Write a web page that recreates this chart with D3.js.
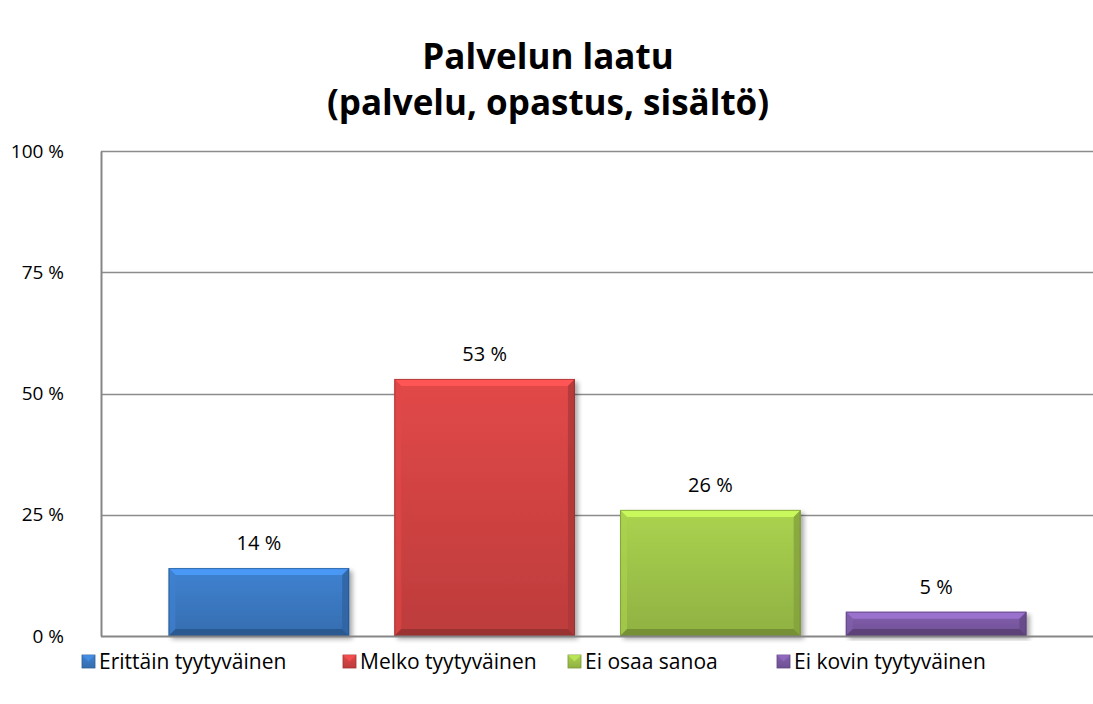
<!DOCTYPE html>
<html>
<head>
<meta charset="utf-8">
<script src="https://cdn.jsdelivr.net/npm/d3@7"></script>
<style>
  body { margin: 0; background: #fff; }
  svg { display: block; font-family: "Open Sans", Lato, sans-serif; }
</style>
</head>
<body>
<div id="chart"></div>
<script>
var width = 1093,
    height = 704;

var categories = ["Erittäin tyytyväinen", "Melko tyytyväinen", "Ei osaa sanoa", "Ei kovin tyytyväinen"];
var values = [14, 53, 26, 5];
var colors = ["#3c7bc6", "#d64444", "#a2c84b", "#7d5ba6"];
var ticks = [0, 25, 50, 75, 100];
var titleLines = ["Palvelun laatu", "(palvelu, opastus, sisältö)"];

var svg = d3.select("#chart").append("svg")
    .attr("width", width)
    .attr("height", height);

var defs = svg.append("defs");

var shadow = defs.append("filter").attr("id", "shadow")
    .attr("x", "-10%").attr("y", "-10%").attr("width", "130%").attr("height", "130%");
shadow.append("feGaussianBlur").attr("in", "SourceAlpha").attr("stdDeviation", 2.5);
shadow.append("feOffset").attr("dx", 3).attr("dy", 3).attr("result", "blur");
shadow.append("feComponentTransfer").append("feFuncA").attr("type", "linear").attr("slope", 0.35);
var merge = shadow.append("feMerge");
merge.append("feMergeNode");
merge.append("feMergeNode").attr("in", "SourceGraphic");

colors.forEach(function (c, i) {
    var g = defs.append("linearGradient").attr("id", "grad" + i)
        .attr("x1", 0).attr("y1", 0).attr("x2", 0).attr("y2", 1);
    g.append("stop").attr("offset", "0%").attr("stop-color", d3.color(c).brighter(0.15));
    g.append("stop").attr("offset", "100%").attr("stop-color", d3.color(c).darker(0.35));
});

var plotLeft = 101, plotRight = 1093, plotTop = 151, plotBottom = 636;

var x = d3.scaleBand()
    .domain(categories)
    .range([146, 1049])
    .paddingInner(0.2)
    .paddingOuter(0.1);

var y = d3.scaleLinear()
    .domain([0, 100])
    .range([plotBottom, plotTop]);

// title, one text per line
svg.append("g")
    .selectAll("text")
    .data(titleLines)
    .join("text")
    .attr("x", 548)
    .attr("y", (d, i) => 69 + i * 46)
    .attr("text-anchor", "middle")
    .attr("font-weight", "bold")
    .attr("font-size", 35)
    .attr("fill", "#000")
    .text(d => d);

// gridlines
svg.append("g")
    .selectAll("line")
    .data(ticks.slice(1))
    .join("line")
    .attr("x1", plotLeft).attr("x2", plotRight)
    .attr("y1", d => Math.round(y(d)) + 0.5)
    .attr("y2", d => Math.round(y(d)) + 0.5)
    .attr("stroke", "#8c8c8c")
    .attr("stroke-width", 1.5);

// y axis
var yAxis = svg.append("g")
    .attr("transform", `translate(${plotLeft},0)`)
    .call(d3.axisLeft(y).tickValues(ticks).tickSize(0).tickPadding(37).tickFormat(d => d + " %"));
yAxis.select(".domain").attr("stroke", "#868686").attr("stroke-width", 2);
yAxis.selectAll("text").attr("font-size", 19).attr("fill", "#000")
    .attr("font-family", "\"Open Sans\", Lato, sans-serif");

// bars
var bev = 7;
var bar = svg.append("g")
    .selectAll("g")
    .data(values)
    .join("g")
    .attr("filter", "url(#shadow)");

bar.append("rect")
    .attr("x", (d, i) => x(categories[i]))
    .attr("y", d => y(d))
    .attr("width", x.bandwidth())
    .attr("height", d => y(0) - y(d))
    .attr("fill", (d, i) => "url(#grad" + i + ")");

function facet(d, i, side) {
    var x0 = x(categories[i]), x1 = x0 + x.bandwidth(), y0 = y(d), y1 = y(0);
    var b = Math.min(bev, (y1 - y0) / 2);
    var pts;
    if (side === "top") pts = [[x0, y0], [x1, y0], [x1 - b, y0 + b], [x0 + b, y0 + b]];
    if (side === "bottom") pts = [[x0, y1], [x1, y1], [x1 - b, y1 - b], [x0 + b, y1 - b]];
    if (side === "left") pts = [[x0, y0], [x0 + b, y0 + b], [x0 + b, y1 - b], [x0, y1]];
    if (side === "right") pts = [[x1, y0], [x1 - b, y0 + b], [x1 - b, y1 - b], [x1, y1]];
    return pts.map(p => p.join(",")).join(" ");
}

bar.append("polygon").attr("points", (d, i) => facet(d, i, "top"))
    .attr("fill", (d, i) => d3.color(colors[i]).brighter(0.6));
bar.append("polygon").attr("points", (d, i) => facet(d, i, "left"))
    .attr("fill", (d, i) => d3.color(colors[i]).brighter(0.15)).attr("opacity", 0.6);
bar.append("polygon").attr("points", (d, i) => facet(d, i, "right"))
    .attr("fill", (d, i) => d3.color(colors[i]).darker(0.6)).attr("opacity", 0.8);
bar.append("polygon").attr("points", (d, i) => facet(d, i, "bottom"))
    .attr("fill", (d, i) => d3.color(colors[i]).darker(0.9));
bar.append("rect")
    .attr("x", (d, i) => x(categories[i]) + 0.5)
    .attr("y", d => y(d) + 0.5)
    .attr("width", x.bandwidth() - 1)
    .attr("height", d => y(0) - y(d) - 1)
    .attr("fill", "none")
    .attr("stroke", (d, i) => d3.color(colors[i]).darker(1.2))
    .attr("stroke-opacity", 0.6);

// baseline
svg.append("line")
    .attr("x1", plotLeft).attr("x2", plotRight)
    .attr("y1", plotBottom + 0.5).attr("y2", plotBottom + 0.5)
    .attr("stroke", "#868686")
    .attr("stroke-width", 2);

// value labels
svg.append("g")
    .selectAll("text")
    .data(values)
    .join("text")
    .attr("x", (d, i) => x(categories[i]) + x.bandwidth() / 2)
    .attr("y", d => y(d) - 18)
    .attr("text-anchor", "middle")
    .attr("font-size", 20)
    .text(d => d + " %");

// legend
var legendX = [82, 343, 568, 777];
var legend = svg.append("g")
    .selectAll("g")
    .data(categories)
    .join("g")
    .attr("transform", (d, i) => `translate(${legendX[i]},662)`);

legend.append("rect")
    .attr("x", 0).attr("y", -7)
    .attr("width", 13).attr("height", 13)
    .attr("fill", (d, i) => "url(#grad" + i + ")")
    .attr("stroke", (d, i) => d3.color(colors[i]).darker(0.8))
    .attr("stroke-width", 0.8);
legend.append("polygon")
    .attr("points", "0,-7 13,-7 6.5,-0.5")
    .attr("fill", (d, i) => d3.color(colors[i]).brighter(0.5))
    .attr("opacity", 0.7);

legend.append("text")
    .attr("x", 17)
    .attr("y", 0)
    .attr("dy", "0.35em")
    .attr("font-size", 21)
    .text(d => d);
</script>
</body>
</html>
